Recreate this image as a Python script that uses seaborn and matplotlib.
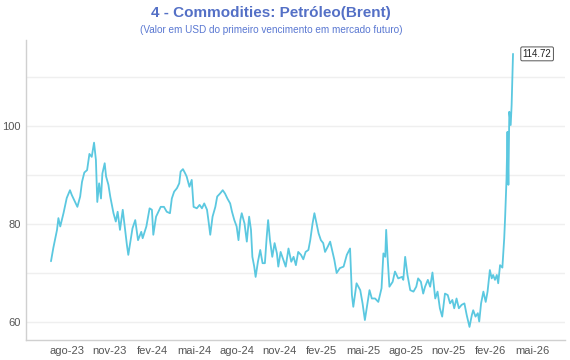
import matplotlib
matplotlib.use("Agg")
import matplotlib.pyplot as plt
import matplotlib.dates as mdates
import matplotlib.ticker as mticker
import seaborn as sns
import pandas as pd

dates = [
    "2023-06-27", "2023-07-02", "2023-07-10", "2023-07-13", "2023-07-17", "2023-07-24", "2023-07-31",
    "2023-08-07", "2023-08-11", "2023-08-18", "2023-08-23", "2023-08-29", "2023-09-02", "2023-09-07",
    "2023-09-13", "2023-09-18", "2023-09-23", "2023-09-28", "2023-10-02", "2023-10-05", "2023-10-09",
    "2023-10-13", "2023-10-16", "2023-10-21", "2023-10-24", "2023-10-29", "2023-11-02", "2023-11-09",
    "2023-11-14", "2023-11-18", "2023-11-23", "2023-11-29", "2023-12-04", "2023-12-08", "2023-12-11",
    "2023-12-15", "2023-12-20", "2023-12-26", "2024-01-01", "2024-01-08", "2024-01-11", "2024-01-19",
    "2024-01-26", "2024-01-31", "2024-02-03", "2024-02-09", "2024-02-14", "2024-02-19", "2024-02-26",
    "2024-03-03", "2024-03-10", "2024-03-14", "2024-03-19", "2024-03-25", "2024-03-30", "2024-04-02",
    "2024-04-07", "2024-04-12", "2024-04-15", "2024-04-21", "2024-04-26", "2024-04-30", "2024-05-07",
    "2024-05-13", "2024-05-18", "2024-05-23", "2024-05-29", "2024-06-01", "2024-06-05", "2024-06-10",
    "2024-06-16", "2024-06-20", "2024-06-26", "2024-07-02", "2024-07-07", "2024-07-12", "2024-07-18",
    "2024-07-22", "2024-07-27", "2024-08-01", "2024-08-05", "2024-08-09", "2024-08-12", "2024-08-18",
    "2024-08-23", "2024-08-28", "2024-09-01", "2024-09-04", "2024-09-08", "2024-09-11", "2024-09-16",
    "2024-09-21", "2024-09-26", "2024-10-01", "2024-10-05", "2024-10-08", "2024-10-12", "2024-10-17",
    "2024-10-22", "2024-10-27", "2024-10-30", "2024-11-04", "2024-11-10", "2024-11-15", "2024-11-21",
    "2024-11-27", "2024-12-02", "2024-12-07", "2024-12-12", "2024-12-18", "2024-12-23", "2024-12-28",
    "2025-01-03", "2025-01-07", "2025-01-12", "2025-01-16", "2025-01-19", "2025-01-25", "2025-01-30",
    "2025-02-04", "2025-02-08", "2025-02-14", "2025-02-19", "2025-02-24", "2025-02-28", "2025-03-05",
    "2025-03-12", "2025-03-20", "2025-03-27", "2025-04-03", "2025-04-07", "2025-04-10", "2025-04-17",
    "2025-04-25", "2025-04-30", "2025-05-05", "2025-05-15", "2025-05-20", "2025-05-27", "2025-06-03",
    "2025-06-10", "2025-06-14", "2025-06-18", "2025-06-20", "2025-06-23", "2025-06-27", "2025-07-04",
    "2025-07-09", "2025-07-16", "2025-07-24", "2025-07-27", "2025-07-31", "2025-08-05", "2025-08-11",
    "2025-08-18", "2025-08-24", "2025-08-28", "2025-09-03", "2025-09-08", "2025-09-12", "2025-09-18",
    "2025-09-23", "2025-09-28", "2025-10-04", "2025-10-09", "2025-10-14", "2025-10-19", "2025-10-25",
    "2025-10-31", "2025-11-05", "2025-11-10", "2025-11-14", "2025-11-19", "2025-11-24", "2025-11-30",
    "2025-12-06", "2025-12-11", "2025-12-17", "2025-12-22", "2025-12-25", "2025-12-30", "2026-01-04",
    "2026-01-07", "2026-01-11", "2026-01-16", "2026-01-21", "2026-01-25", "2026-01-30", "2026-02-03",
    "2026-02-06", "2026-02-10", "2026-02-14", "2026-02-17", "2026-02-21", "2026-02-26", "2026-03-02",
    "2026-03-04", "2026-03-07", "2026-03-09", "2026-03-11", "2026-03-13", "2026-03-16", "2026-03-18",
    "2026-03-21",
]
brent = [
    72.4, 75.1, 78.8, 81.2, 79.5, 82.2, 85.3,
    86.9, 85.9, 84.5, 83.5, 85.6, 88.6, 90.5,
    91.0, 94.3, 93.7, 96.6, 93.1, 84.5, 88.3,
    85.2, 90.3, 92.4, 89.7, 88.0, 85.6, 82.2,
    80.5, 82.5, 78.8, 82.9, 78.8, 75.7, 73.7,
    76.1, 79.1, 80.8, 76.7, 78.4, 77.1, 79.5,
    83.2, 82.9, 77.8, 81.5, 82.5, 83.5, 83.5,
    82.5, 82.2, 85.2, 86.6, 87.3, 88.3, 90.7,
    91.2, 90.3, 89.7, 87.6, 89.0, 83.5, 83.2,
    83.9, 83.2, 84.2, 82.9, 80.8, 77.8, 81.5,
    83.5, 85.6, 86.2, 86.9, 86.2, 85.2, 84.2,
    82.5, 80.8, 79.5, 76.7, 80.8, 82.2, 80.1,
    76.4, 81.5, 78.8, 73.3, 71.3, 69.2, 72.3,
    74.7, 72.0, 72.0, 77.4, 80.8, 76.7, 73.3,
    76.1, 74.0, 71.3, 74.3, 72.7, 71.3, 75.0,
    72.3, 73.3, 71.6, 74.3, 73.7, 72.8, 74.3,
    74.7, 76.7, 80.1, 82.2, 80.8, 78.1, 76.7,
    76.1, 74.3, 75.4, 76.4, 74.3, 72.7, 70.0,
    71.0, 71.3, 73.7, 75.0, 65.5, 63.1, 67.9,
    66.5, 63.8, 60.4, 66.5, 64.8, 64.8, 64.1,
    66.9, 74.0, 73.3, 78.8, 73.3, 67.2, 68.2,
    70.3, 68.9, 69.2, 68.6, 73.3, 69.6, 66.5,
    66.2, 67.2, 68.9, 68.2, 65.8, 67.2, 68.6,
    67.2, 70.1, 64.8, 66.2, 62.8, 61.1, 65.8,
    65.5, 63.8, 64.5, 62.8, 64.8, 62.8, 63.5,
    63.8, 61.4, 59.0, 61.4, 62.4, 61.1, 61.8,
    60.1, 63.8, 66.2, 64.1, 66.2, 70.6, 68.9,
    69.6, 68.6, 69.6, 67.9, 71.6, 71.1, 77.1,
    81.5, 89.3, 98.8, 88.0, 102.9, 100.2, 104.3,
    114.72,
]
month_pt = {1: "jan", 2: "fev", 3: "mar", 4: "abr", 5: "mai", 6: "jun",
            7: "jul", 8: "ago", 9: "set", 10: "out", 11: "nov", 12: "dez"}
title = "4 - Commodities: Petróleo(Brent)"
subtitle = "(Valor em USD do primeiro vencimento em mercado futuro)"

df = pd.DataFrame({"data": pd.to_datetime(dates), "valor": brent})

sns.set_style("white")
plt.rcParams["font.family"] = ["Liberation Sans", "DejaVu Sans"]

fig = plt.figure(figsize=(5.7, 3.6), dpi=100)
ax = fig.add_axes([0.0456, 0.0556, 0.9454, 0.8333])

line_color = "#5bc8e0"
sns.lineplot(data=df, x="data", y="valor", ax=ax, color=line_color, linewidth=1.3)

ax.set_xlim(pd.Timestamp("2023-05-04"), pd.Timestamp("2026-07-11"))
ax.set_ylim(56.33, 117.55)

ax.xaxis.set_major_locator(mdates.MonthLocator(bymonth=[2, 5, 8, 11]))
ax.xaxis.set_major_formatter(mticker.FuncFormatter(
    lambda v, p: f"{month_pt[mdates.num2date(v).month]}-{mdates.num2date(v).strftime('%y')}"))
ax.yaxis.set_major_locator(mticker.MultipleLocator(20))
ax.yaxis.set_minor_locator(mticker.MultipleLocator(10))
ax.yaxis.set_major_formatter(mticker.FormatStrFormatter("%d"))

ax.grid(axis="y", which="both", color="#efefef", linewidth=1)
ax.grid(axis="x", visible=False)
ax.tick_params(axis="both", which="both", length=0, labelsize=8, colors="#555555", pad=4)
ax.set_xlabel("")
ax.set_ylabel("")
for s in ["top", "right"]:
    ax.spines[s].set_visible(False)
for s in ["left", "bottom"]:
    ax.spines[s].set_color("#d0d0d0")
    ax.spines[s].set_linewidth(1)

last_x = df["data"].iloc[-1]
last_y = df["valor"].iloc[-1]
ax.annotate(f"{last_y:.2f}", xy=(last_x, last_y), xytext=(7, 0), textcoords="offset points",
            ha="left", va="center", fontsize=7, color="#222222",
            bbox=dict(boxstyle="round,pad=0.2,rounding_size=0.15", fc="white", ec="#555555", lw=0.7))

fig.text(0.475, 0.965, title, ha="center", va="center", fontsize=11, fontweight="bold", color="#5470c6")
fig.text(0.475, 0.918, subtitle, ha="center", va="center", fontsize=7.2, color="#5a78d2")

fig.savefig("out.png", dpi=100, facecolor="white")
